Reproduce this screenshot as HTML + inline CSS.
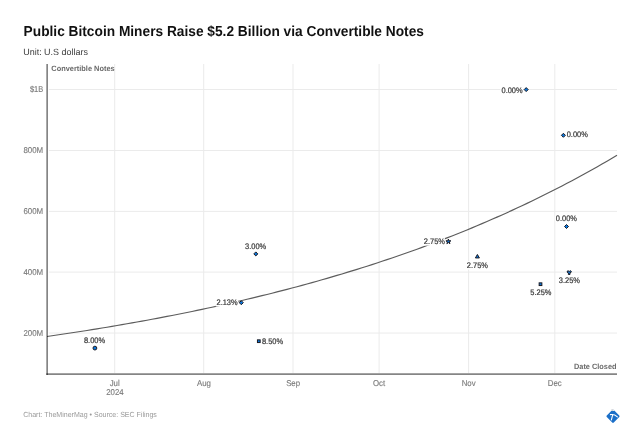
<!DOCTYPE html>
<html><head><meta charset="utf-8">
<style>
html,body{margin:0;padding:0;background:#fff;width:640px;height:442px;overflow:hidden}
svg{display:block;will-change:transform}
text{font-family:"Liberation Sans",sans-serif;text-rendering:geometricPrecision}
.ttl{font-weight:bold;fill:#111}
.ax{fill:#7c7c7c;font-size:8.5px;stroke:#7c7c7c;stroke-width:0.15px}
.halo{fill:#fff;font-size:8px;stroke:#fff;stroke-width:3px;stroke-linejoin:round}
.lbl{fill:#383838;font-size:8px;stroke:#383838;stroke-width:0.22px}
.mk{fill:#0a76dc;stroke:#1a1a22;stroke-width:1.0}
.grid{stroke:#ebebeb;stroke-width:1}
</style></head>
<body>
<svg width="640" height="442" viewBox="0 0 640 442">
<rect width="640" height="442" fill="#fff"/>
<text x="23.6" y="36" class="ttl" font-size="14.4" textLength="400.3" lengthAdjust="spacingAndGlyphs">Public Bitcoin Miners Raise $5.2 Billion via Convertible Notes</text>
<text x="23.2" y="54.7" font-size="9" fill="#3a3a3a" textLength="64.8" lengthAdjust="spacingAndGlyphs">Unit: U.S dollars</text>
<g class="grid">
<line x1="49" y1="89.5" x2="617" y2="89.5"/>
<line x1="49" y1="150.5" x2="617" y2="150.5"/>
<line x1="49" y1="211.4" x2="617" y2="211.4"/>
<line x1="49" y1="272.1" x2="617" y2="272.1"/>
<line x1="49" y1="333.05" x2="617" y2="333.05"/>
<line x1="114.7" y1="64" x2="114.7" y2="373"/>
<line x1="203.7" y1="64" x2="203.7" y2="373"/>
<line x1="293" y1="64" x2="293" y2="373"/>
<line x1="379.1" y1="64" x2="379.1" y2="373"/>
<line x1="468.6" y1="64" x2="468.6" y2="373"/>
<line x1="554.8" y1="64" x2="554.8" y2="373"/>
</g>
<g class="ax" text-anchor="end">
<text transform="translate(43.2,92.2) scale(0.88,1)">$1B</text>
<text transform="translate(43.2,153.2) scale(0.93,1)">800M</text>
<text transform="translate(43.2,214.1) scale(0.93,1)">600M</text>
<text transform="translate(43.2,274.8) scale(0.93,1)">400M</text>
<text transform="translate(43.2,335.8) scale(0.93,1)">200M</text>
</g>
<g class="ax" text-anchor="middle" font-size="8.8">
<text transform="translate(114.7,385.5) scale(0.92,1)">Jul</text>
<text transform="translate(114.9,395.4) scale(0.92,1)">2024</text>
<text transform="translate(203.9,385.5) scale(0.92,1)">Aug</text>
<text transform="translate(293.1,385.5) scale(0.92,1)">Sep</text>
<text transform="translate(379.1,385.5) scale(0.92,1)">Oct</text>
<text transform="translate(468.6,385.5) scale(0.92,1)">Nov</text>
<text transform="translate(554.8,385.5) scale(0.92,1)">Dec</text>
</g>
<text x="51.3" y="71" font-size="7.7" font-weight="bold" fill="#6a6a6a" textLength="63.4" lengthAdjust="spacingAndGlyphs">Convertible Notes</text>
<text x="574" y="368.5" font-size="7.7" font-weight="bold" fill="#6a6a6a" textLength="42.5" lengthAdjust="spacingAndGlyphs">Date Closed</text>
<polyline fill="none" stroke="#5c5c5c" stroke-width="1.15" points="47.0,336.49 52.0,335.77 57.0,335.04 62.0,334.30 67.0,333.55 72.0,332.79 77.0,332.02 82.0,331.25 87.0,330.46 92.0,329.66 97.0,328.86 102.0,328.04 107.0,327.21 112.0,326.37 117.0,325.52 122.0,324.67 127.0,323.80 132.0,322.91 137.0,322.02 142.0,321.12 147.0,320.20 152.0,319.28 157.0,318.34 162.0,317.39 167.0,316.43 172.0,315.46 177.0,314.47 182.0,313.47 187.0,312.46 192.0,311.44 197.0,310.40 202.0,309.35 207.0,308.29 212.0,307.21 217.0,306.12 222.0,305.02 227.0,303.90 232.0,302.77 237.0,301.62 242.0,300.46 247.0,299.29 252.0,298.10 257.0,296.89 262.0,295.67 267.0,294.44 272.0,293.19 277.0,291.92 282.0,290.64 287.0,289.34 292.0,288.03 297.0,286.69 302.0,285.35 307.0,283.98 312.0,282.60 317.0,281.20 322.0,279.78 327.0,278.35 332.0,276.89 337.0,275.42 342.0,273.93 347.0,272.42 352.0,270.89 357.0,269.35 362.0,267.78 367.0,266.19 372.0,264.59 377.0,262.96 382.0,261.31 387.0,259.65 392.0,257.96 397.0,256.25 402.0,254.51 407.0,252.76 412.0,250.99 417.0,249.19 422.0,247.37 427.0,245.52 432.0,243.66 437.0,241.77 442.0,239.85 447.0,237.91 452.0,235.95 457.0,233.96 462.0,231.95 467.0,229.91 472.0,227.85 477.0,225.76 482.0,223.65 487.0,221.50 492.0,219.34 497.0,217.14 502.0,214.91 507.0,212.66 512.0,210.38 517.0,208.07 522.0,205.73 527.0,203.37 532.0,200.97 537.0,198.54 542.0,196.08 547.0,193.59 552.0,191.07 557.0,188.52 562.0,185.94 567.0,183.32 572.0,180.67 577.0,177.98 582.0,175.27 587.0,172.52 592.0,169.73 597.0,166.91 602.0,164.05 607.0,161.16 612.0,158.23 617.0,155.26"/>
<line x1="47.15" y1="64" x2="47.15" y2="374.9" stroke="#000" stroke-opacity="0.48" stroke-width="1.7"/>
<line x1="46.3" y1="374.15" x2="617" y2="374.15" stroke="#000" stroke-opacity="0.48" stroke-width="1.7"/>
<g class="halo"><text transform="translate(94.50,342.50) scale(0.93,1)" text-anchor="middle">8.00%</text>
<text transform="translate(255.65,248.50) scale(0.93,1)" text-anchor="middle">3.00%</text>
<text transform="translate(227.05,305.30) scale(0.93,1)" text-anchor="middle">2.13%</text>
<text transform="translate(272.50,343.55) scale(0.93,1)" text-anchor="middle">8.50%</text>
<text transform="translate(434.35,244.30) scale(0.93,1)" text-anchor="middle">2.75%</text>
<text transform="translate(477.40,268.00) scale(0.93,1)" text-anchor="middle">2.75%</text>
<text transform="translate(512.05,92.50) scale(0.93,1)" text-anchor="middle">0.00%</text>
<text transform="translate(577.25,137.40) scale(0.93,1)" text-anchor="middle">0.00%</text>
<text transform="translate(566.40,221.40) scale(0.93,1)" text-anchor="middle">0.00%</text>
<text transform="translate(540.90,295.10) scale(0.93,1)" text-anchor="middle">5.25%</text>
<text transform="translate(569.35,283.40) scale(0.93,1)" text-anchor="middle">3.25%</text></g><g class="lbl"><text transform="translate(94.50,342.50) scale(0.93,1)" text-anchor="middle">8.00%</text>
<text transform="translate(255.65,248.50) scale(0.93,1)" text-anchor="middle">3.00%</text>
<text transform="translate(227.05,305.30) scale(0.93,1)" text-anchor="middle">2.13%</text>
<text transform="translate(272.50,343.55) scale(0.93,1)" text-anchor="middle">8.50%</text>
<text transform="translate(434.35,244.30) scale(0.93,1)" text-anchor="middle">2.75%</text>
<text transform="translate(477.40,268.00) scale(0.93,1)" text-anchor="middle">2.75%</text>
<text transform="translate(512.05,92.50) scale(0.93,1)" text-anchor="middle">0.00%</text>
<text transform="translate(577.25,137.40) scale(0.93,1)" text-anchor="middle">0.00%</text>
<text transform="translate(566.40,221.40) scale(0.93,1)" text-anchor="middle">0.00%</text>
<text transform="translate(540.90,295.10) scale(0.93,1)" text-anchor="middle">5.25%</text>
<text transform="translate(569.35,283.40) scale(0.93,1)" text-anchor="middle">3.25%</text></g>
<g class="mk">
<circle cx="94.9" cy="348.1" r="1.9"/>
<path d="M255.8,251.90 L257.80,253.9 L255.8,255.90 L253.80,253.9Z"/>
<path d="M241.3,300.70 L243.30,302.7 L241.3,304.70 L239.30,302.7Z"/>
<rect x="257.45" y="339.85" width="2.7" height="2.7"/>
<path d="M448.40,239.00 L448.98,240.80 L450.87,240.80 L449.34,241.91 L449.93,243.70 L448.40,242.59 L446.87,243.70 L447.46,241.91 L445.93,240.80 L447.82,240.80Z"/>
<path d="M477.4,254.49 L479.40,257.95 L475.40,257.95Z"/>
<path d="M526.2,87.60 L528.20,89.6 L526.2,91.60 L524.20,89.6Z"/>
<path d="M563.4,133.30 L565.40,135.3 L563.4,137.30 L561.40,135.3Z"/>
<path d="M566.5,224.50 L568.50,226.5 L566.5,228.50 L564.50,226.5Z"/>
<rect x="539.15" y="282.85" width="2.7" height="2.7"/>
<path d="M570.01,272.87 L570.01,274.49 L568.39,274.49 L568.39,272.87 L566.99,272.06 L567.80,270.66 L569.20,271.47 L570.60,270.66 L571.41,272.06Z"/>
</g>
<text x="23.2" y="417.2" font-size="7.4" fill="#999" textLength="133.7" lengthAdjust="spacingAndGlyphs">Chart: TheMinerMag • Source: SEC Filings</text>
<g transform="translate(613,416.3)">
<rect x="-4.95" y="-4.95" width="9.9" height="9.9" rx="1.1" fill="#1b6fc8" transform="rotate(45)"/>
<path d="M-2.3,-5.3 L-0.3,-7.3 L1.7,-5.3Z" fill="#fff"/>
<ellipse cx="-0.6" cy="-6.2" rx="1.4" ry="0.8" fill="#c9ccd1"/>
<path d="M-2.6,-1.7 Q1.2,-2.4 4.4,0.5" fill="none" stroke="#fff" stroke-width="1.1" stroke-linecap="round"/>
<path d="M-0.3,-1.6 L-1.6,3.6" fill="none" stroke="#fff" stroke-width="1.1" stroke-linecap="round"/>
</g>
</svg>
</body></html>
